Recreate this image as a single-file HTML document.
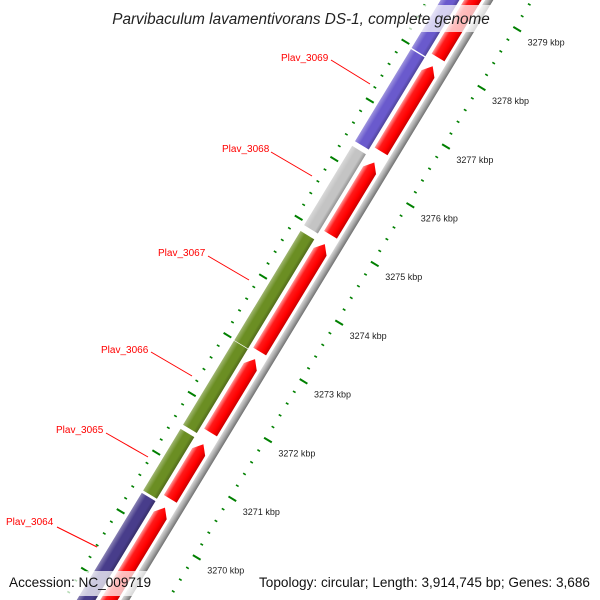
<!DOCTYPE html>
<html><head><meta charset="utf-8"><style>
html,body{margin:0;padding:0;background:#fff;width:600px;height:600px;overflow:hidden;}
svg{display:block;font-family:"Liberation Sans",sans-serif;overflow:hidden;}
</style></head><body>
<svg id="map" width="600" height="600" viewBox="0 0 600 600" xmlns="http://www.w3.org/2000/svg">
<defs>
<clipPath id="clipAll"><rect x="0" y="0" width="600" height="600"/></clipPath>
<linearGradient id="gRed" gradientUnits="userSpaceOnUse" x1="0" y1="31" x2="0" y2="46">
<stop offset="0" stop-color="#ff9a9a"/><stop offset="0.3" stop-color="#ff1a1a"/><stop offset="0.7" stop-color="#ff0000"/><stop offset="1" stop-color="#c80000"/></linearGradient>
<linearGradient id="gShade" gradientUnits="userSpaceOnUse" x1="0" y1="11" x2="0" y2="27">
<stop offset="0" stop-color="#fff" stop-opacity="0.35"/><stop offset="0.35" stop-color="#fff" stop-opacity="0"/><stop offset="0.75" stop-color="#000" stop-opacity="0"/><stop offset="1" stop-color="#000" stop-opacity="0.25"/></linearGradient>
<linearGradient id="gGray" gradientUnits="userSpaceOnUse" x1="0" y1="49" x2="0" y2="56">
<stop offset="0" stop-color="#d8d8d8"/><stop offset="0.5" stop-color="#a8a8a8"/><stop offset="1" stop-color="#707070"/></linearGradient>
</defs>
<g clip-path="url(#clipAll)">
<g id="rot" transform="translate(118.5,510) rotate(-58.76)"></g>
</g>
<g id="lbls" font-size="9" fill="#222"></g>
<g font-size="10" fill="#ff0000" stroke="none">
<text x="6" y="525">Plav_3064</text>
<text x="56" y="433">Plav_3065</text>
<text x="101" y="353">Plav_3066</text>
<text x="158" y="256">Plav_3067</text>
<text x="222" y="152">Plav_3068</text>
<text x="281" y="61">Plav_3069</text>
</g>
<g stroke="#ff0000" stroke-width="1">
<line x1="57" y1="527" x2="97" y2="547"/>
<line x1="106" y1="433" x2="148" y2="457"/>
<line x1="151" y1="352" x2="192" y2="376"/>
<line x1="208" y1="256" x2="249" y2="280"/>
<line x1="271" y1="152" x2="312" y2="176"/>
<line x1="331" y1="60" x2="370" y2="84"/>
</g>
<rect x="105" y="5" width="392" height="27" fill="#fff" fill-opacity="0.72"/>
<text x="301" y="24" text-anchor="middle" font-size="15.3" font-style="italic" fill="#222">Parvibaculum lavamentivorans DS-1, complete genome</text>
<rect x="4" y="571" width="150" height="25" fill="#fff" fill-opacity="0.72"/>
<text x="9" y="587" font-size="13.6" fill="#111">Accession: NC_009719</text>
<rect x="254" y="571" width="342" height="25" fill="#fff" fill-opacity="0.72"/>
<text x="590" y="587" text-anchor="end" font-size="13.6" fill="#111">Topology: circular; Length: 3,914,745 bp; Genes: 3,686</text>
</svg>
<script>
const tickKbp = [3270,3271,3272,3273,3274,3275,3276,3277,3278,3279];
const tickLabels = ["3270 kbp","3271 kbp","3272 kbp","3273 kbp","3274 kbp","3275 kbp","3276 kbp","3277 kbp","3278 kbp","3279 kbp"];
const geneNames = ["Plav_3064","Plav_3065","Plav_3066","Plav_3067","Plav_3068","Plav_3069","Plav_3070"];
const geneStart = [3268.5,3270.43,3271.55,3272.99,3274.95,3276.38,3277.97];
const geneEnd = [3270.39,3271.48,3272.98,3274.85,3276.30,3277.95,3280.5];
const geneColor = ["#483d8b","#6b8e23","#6b8e23","#6b8e23","#c4c4c4","#6a5acd","#6a5acd"];
const cdsStart = [3268.5,3270.53,3271.66,3273.04,3275.03,3276.45,3278.05];
const cdsEnd = [3270.38,3271.46,3272.91,3274.87,3276.26,3277.90,3280.5];

const NS="http://www.w3.org/2000/svg";
const K=68.65, BASE=3270, OX=118.5, OY=510;
const ang=58.76*Math.PI/180, ux=Math.cos(ang), uy=-Math.sin(ang), vx=Math.sin(ang), vy=Math.cos(ang);
const X = kb => (kb-BASE)*K;
const g=document.getElementById('rot'), lg=document.getElementById('lbls');
function mk(tag,attrs,parent){const e=document.createElementNS(NS,tag);for(const k in attrs)e.setAttribute(k,attrs[k]);parent.appendChild(e);return e;}

const bb=mk('rect',{x:X(3268.5),y:49,width:K*12.5,height:7,fill:'url(#gGray)'},g);



for(let i=0;i<geneNames.length;i++){
  const r=mk('rect',{x:X(geneStart[i]),y:11,width:X(geneEnd[i])-X(geneStart[i]),height:16,fill:geneColor[i]},g);
  
  
  const s=mk('rect',{x:X(geneStart[i]),y:11,width:X(geneEnd[i])-X(geneStart[i]),height:16,fill:'url(#gShade)'},g);
  
  
}
for(let i=0;i<cdsStart.length;i++){
  const s=X(cdsStart[i]), e=X(cdsEnd[i]), h=9;
  const p=mk('path',{d:`M${s},31 L${e-h},31 L${e},38.5 L${e-h},46 L${s},46 Z`,fill:'url(#gRed)'},g);
  
  
}
for(let t=3268.6;t<=3280.41;t+=0.2){
  const tt=Math.round(t*10)/10, major=Math.abs(tt-Math.round(tt))<0.01;
  const x=X(tt);
  const a=major?[-2,7]:[-1.5,1.5];
  const i1=mk('line',{x1:x,y1:a[0],x2:x,y2:a[1],stroke:'#008000','stroke-width':major?2:1.6},g);
  
  
  const o=major?[87,96]:[87.5,90.5];
  const o1=mk('line',{x1:x,y1:o[0],x2:x,y2:o[1],stroke:'#008000','stroke-width':major?2:1.6},g);
  
  
}
for(let i=0;i<tickKbp.length;i++){
  const L=X(tickKbp[i]);
  const sx=OX+L*ux+92*vx+10, sy=OY+L*uy+92*vy+16;
  const tx=mk('text',{x:sx.toFixed(1),y:sy.toFixed(1)},lg);
  tx.textContent=tickLabels[i];
  
  
}
</script>
</body></html>
